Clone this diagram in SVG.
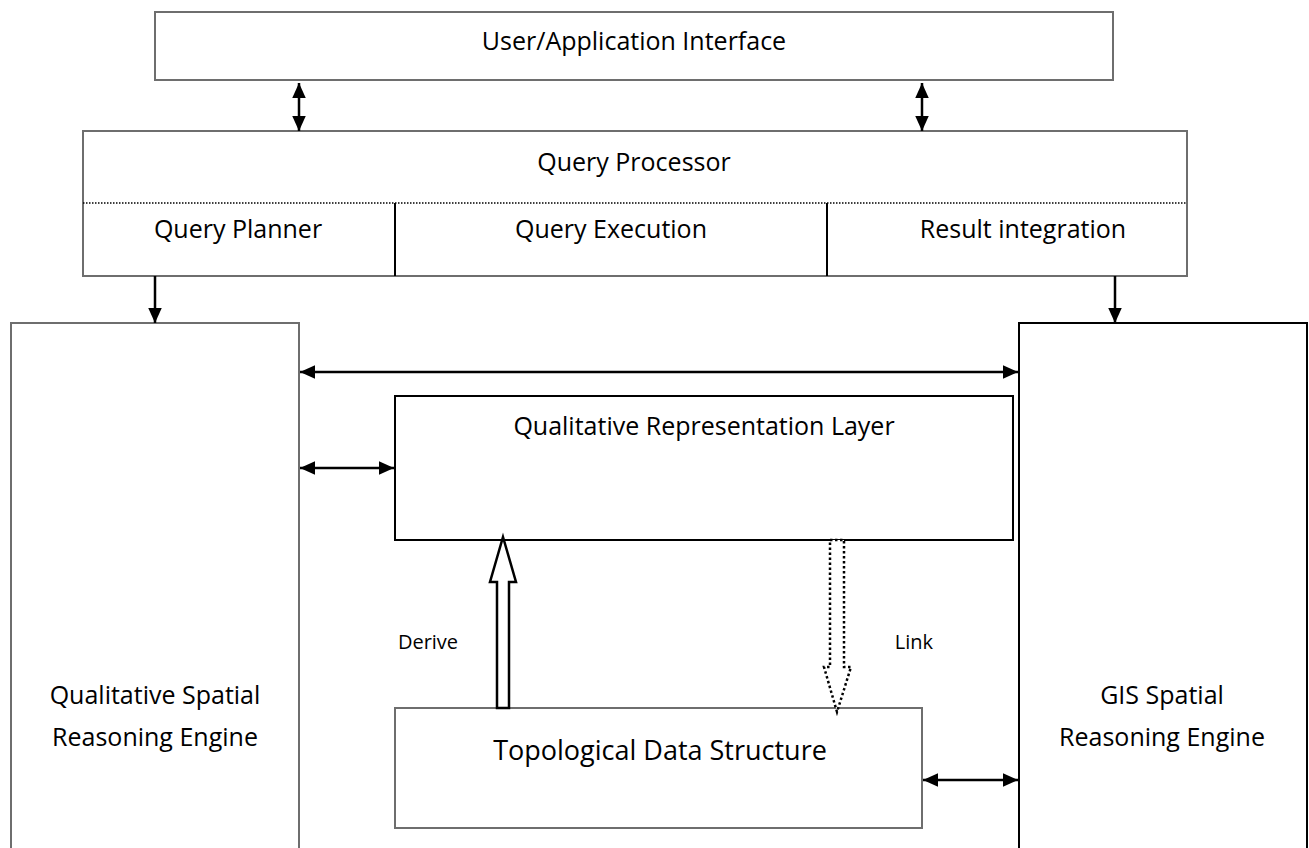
<svg xmlns="http://www.w3.org/2000/svg" width="1309" height="848" viewBox="0 0 1309 848">
<defs>
<marker id="ah" viewBox="0 0 10 10" refX="10" refY="5" markerWidth="15" markerHeight="15" markerUnits="userSpaceOnUse" orient="auto-start-reverse">
<path d="M0,0.5 L10,5 L0,9.5 Z" fill="#000"/>
</marker>
<style>
.t{font-family:"Open Sans","Liberation Sans",sans-serif;font-size:25px;fill:#000;text-anchor:middle}
.s{font-family:"Open Sans","Liberation Sans",sans-serif;font-size:20px;fill:#000;text-anchor:middle}
.g{fill:#fff;stroke:#6e6e6e;stroke-width:2}
.b{fill:#fff;stroke:#000;stroke-width:2}
.c{stroke:#000;stroke-width:2.5;fill:none}
</style>
</defs>
<rect width="1309" height="848" fill="#fff"/>
<g id="ui">
<rect class="g" x="155" y="12" width="958" height="68"/>
<text class="t" x="634" y="50">User/Application Interface</text>
</g>
<g id="qp">
<rect class="g" x="83" y="131" width="1104" height="145"/>
<line x1="83" y1="203" x2="1187" y2="203" stroke="#000" stroke-width="1.5" stroke-dasharray="1.5,1.5"/>
<line x1="395" y1="203" x2="395" y2="276" stroke="#000" stroke-width="2"/>
<line x1="827" y1="203" x2="827" y2="276" stroke="#000" stroke-width="2"/>
<text class="t" x="634" y="171">Query Processor</text>
<text class="t" x="238" y="238">Query Planner</text>
<text class="t" x="611" y="238">Query Execution</text>
<text class="t" x="1023" y="238">Result integration</text>
</g>
<g id="qsre">
<rect class="g" x="11" y="323" width="288" height="540"/>
<text class="t" x="155" y="704">Qualitative Spatial</text>
<text class="t" x="155" y="746">Reasoning Engine</text>
</g>
<g id="gis">
<rect class="b" x="1019" y="323" width="288" height="540"/>
<text class="t" x="1162" y="704">GIS Spatial</text>
<text class="t" x="1162" y="746">Reasoning Engine</text>
</g>
<g id="qrl">
<rect class="b" x="395" y="396" width="618" height="144"/>
<text class="t" x="704" y="435">Qualitative Representation Layer</text>
</g>
<g id="tds">
<rect class="g" x="395" y="708" width="527" height="120"/>
<text class="t" x="660" y="760" style="font-size:27px">Topological Data Structure</text>
</g>
<g id="connectors">
<line class="c" x1="299" y1="83" x2="299" y2="131" marker-start="url(#ah)" marker-end="url(#ah)"/>
<line class="c" x1="922" y1="83" x2="922" y2="131" marker-start="url(#ah)" marker-end="url(#ah)"/>
<line class="c" x1="155" y1="276" x2="155" y2="323" marker-end="url(#ah)"/>
<line class="c" x1="1115" y1="276" x2="1115" y2="323" marker-end="url(#ah)"/>
<line class="c" x1="300" y1="372" x2="1018" y2="372" marker-start="url(#ah)" marker-end="url(#ah)"/>
<line class="c" x1="300" y1="468" x2="394" y2="468" marker-start="url(#ah)" marker-end="url(#ah)"/>
<line class="c" x1="923" y1="780" x2="1018" y2="780" marker-start="url(#ah)" marker-end="url(#ah)"/>
<path d="M503,537 L516,582 L509,582 L509,708 L497,708 L497,582 L490,582 Z" fill="#fff" stroke="#000" stroke-width="2.5"/>
<path d="M830,540 L844,540 L844,667 L851,667 L837,712 L824,667 L830,667 Z" fill="#fff" stroke="#000" stroke-width="2.5" stroke-dasharray="2.5,2.5"/>
<text class="s" x="428" y="649">Derive</text>
<text class="s" x="914" y="649">Link</text>
</g>
</svg>
